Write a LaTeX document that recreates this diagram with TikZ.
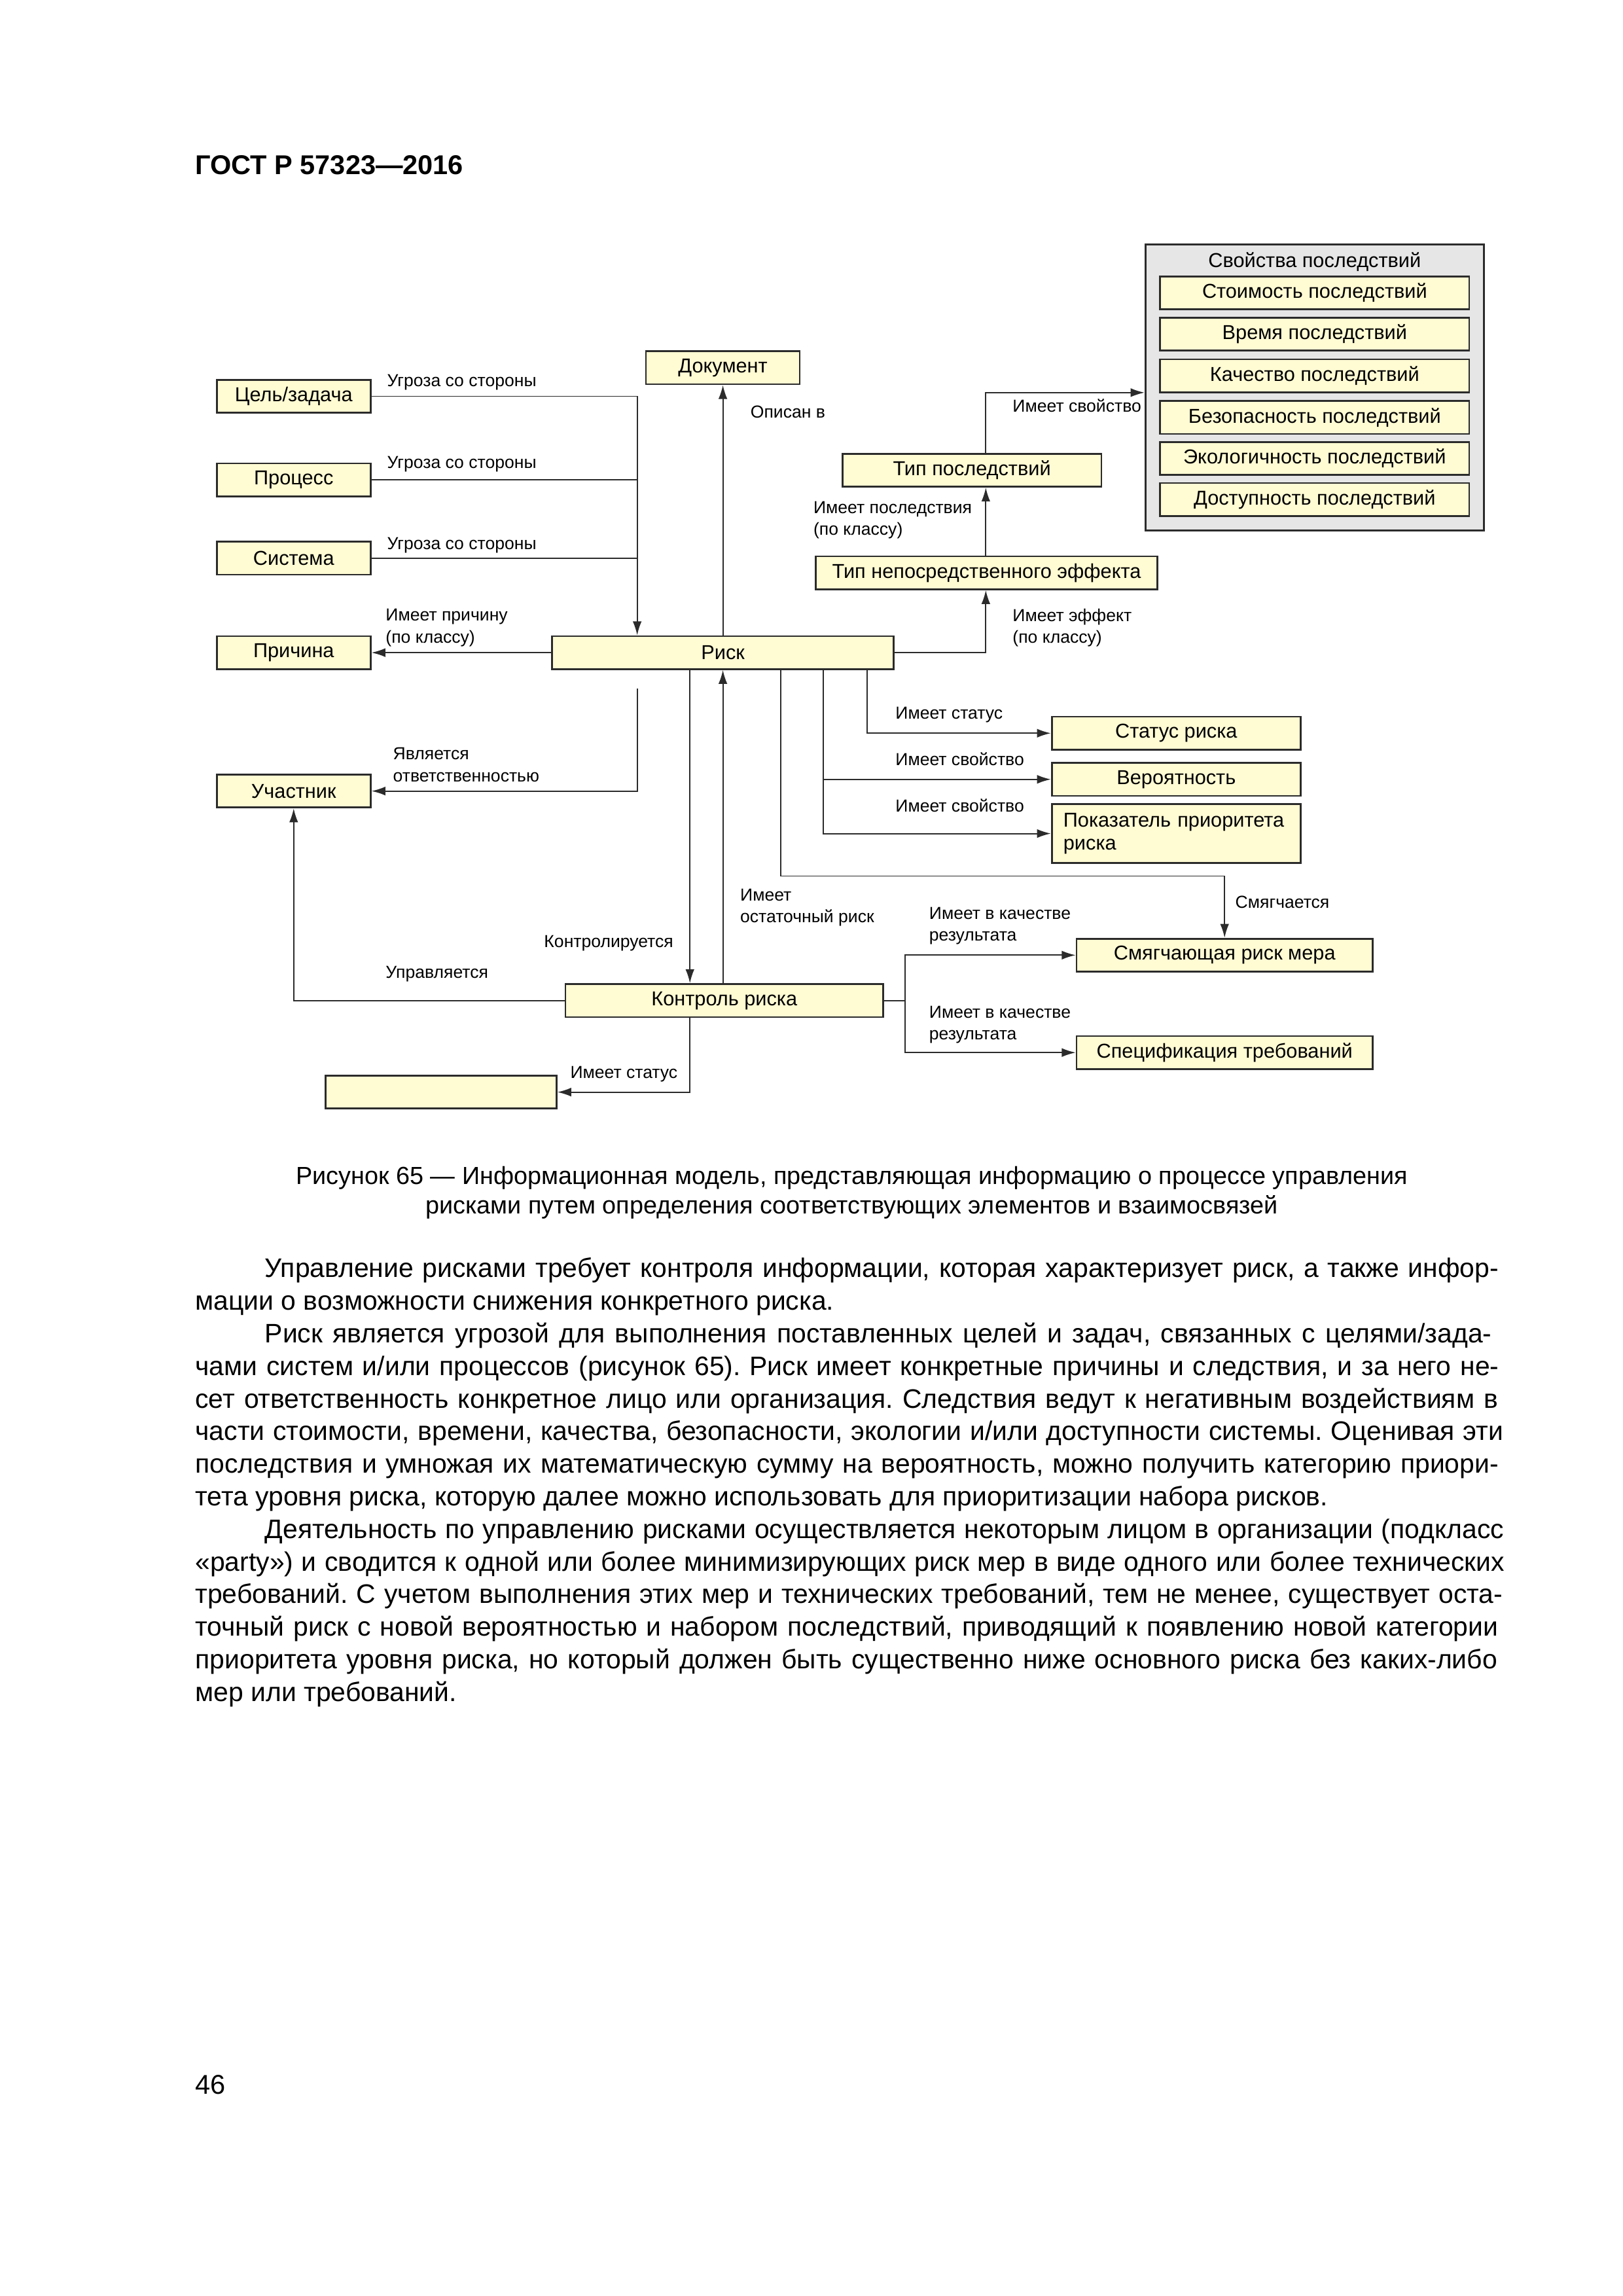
\documentclass[tikz,border=0pt]{standalone}
\usepackage{fontspec}
\setmainfont{Liberation Sans}
\usetikzlibrary{arrows.meta}

\definecolor{boxfill}{HTML}{FFFBD3}
\definecolor{groupfill}{HTML}{E6E6E6}
\definecolor{edgegray}{HTML}{2B2B2B}

\tikzset{
	entity/.style={draw=edgegray, line width=0.65pt, fill=boxfill, minimum height=0.426cm, inner sep=1pt, font=\fontsize{7.4}{8.6}\selectfont},
	rel/.style={draw=edgegray, line width=0.45pt},
	arr/.style={rel, -{Latex[length=1.8mm,width=1.15mm]}},
	lbl/.style={font=\fontsize{6.4}{8.1}\selectfont, anchor=west, align=left, inner sep=0pt},
}

\begin{document}
\begin{tikzpicture}[x=0.018953cm, y=-0.018953cm]
	\useasboundingbox (0,0) rectangle (1108,1567.3);
	\node[anchor=base west, inner sep=0, font=\bfseries\fontsize{10}{12}\selectfont] (title) at (133,119) {ГОСТ Р 57323—2016};

	\node[draw=edgegray, line width=0.65pt, fill=groupfill, minimum width=4.38cm, minimum height=3.70cm] (props) at (897.5,264.5) {};
	\node[font=\fontsize{7.4}{8.6}\selectfont, inner sep=0] (propstitle) at (897.5,179) {Свойства последствий};
	\node[entity, minimum width=4.0cm] (cost) at (897.5,200) {Стоимость последствий};
	\node[entity, minimum width=4.0cm] (time) at (897.5,228) {Время последствий};
	\node[entity, minimum width=4.0cm] (quality) at (897.5,256.5) {Качество последствий};
	\node[entity, minimum width=4.0cm] (safety) at (897.5,285) {Безопасность последствий};
	\node[entity, minimum width=4.0cm] (ecology) at (897.5,313) {Экологичность последствий};
	\node[entity, minimum width=4.0cm] (access) at (897.5,341) {Доступность последствий};

	\node[entity, minimum width=1.99cm] (goal) at (200.5,270.5) {Цель/задача};
	\node[entity, minimum width=1.99cm] (process) at (200.5,327.5) {Процесс};
	\node[entity, minimum width=1.99cm] (system) at (200.5,381) {Система};
	\node[entity, minimum width=1.99cm] (cause) at (200.5,445.5) {Причина};
	\node[entity, minimum width=1.99cm] (party) at (200.5,540) {Участник};
	\node[entity, minimum width=4.42cm] (risk) at (493.5,445.5) {Риск};
	\node[entity, minimum width=1.99cm] (doc) at (493.5,251) {Документ};
	\node[entity, minimum width=3.35cm] (ctype) at (663.5,321) {Тип последствий};
	\node[entity, minimum width=4.42cm] (etype) at (673.5,391) {Тип непосредственного эффекта};
	\node[entity, minimum width=3.22cm] (status) at (803,500.5) {Статус риска};
	\node[entity, minimum width=3.22cm] (prob) at (803,532) {Вероятность};
	\node[entity, minimum width=3.22cm, minimum height=0.76cm, text width=2.92cm, align=left] (prio) at (803,569) {Показатель приоритета\\риска};
	\node[entity, minimum width=3.83cm] (mitig) at (836,652) {Смягчающая риск мера};
	\node[entity, minimum width=3.83cm] (spec) at (836,718.5) {Спецификация требований};
	\node[entity, minimum width=4.11cm] (control) at (494.5,683) {Контроль риска};
	\node[entity, minimum width=2.99cm] (cstatus) at (301,745.5) {};

	\coordinate (bus) at (435,0);
	\coordinate (resp) at (435,470);
	\coordinate (fx) at (673,0);
	\coordinate (prop) at (673,268);
	\coordinate (st) at (592,0);
	\coordinate (pr) at (562,0);
	\coordinate (mt) at (533,598);
	\coordinate (ct) at (471,0);
	\coordinate (rr) at (493.5,0);
	\coordinate (res) at (618,0);

	\draw[rel] (process.east) -- (process.east -| bus);
	\draw[rel] (system.east) -- (system.east -| bus);
	\draw[arr] (goal.east) -- (goal.east -| bus) -- (bus |- risk.north);
	\draw[arr] (risk.north) -- (doc.south);
	\draw[arr] (risk.west) -- (cause.east);
	\draw[arr] (resp) -- (resp |- party.east) -- (party.east);
	\draw[arr] (risk.east) -- (risk.east -| fx) -- (fx |- etype.south);
	\draw[arr] (fx |- etype.north) -- (fx |- ctype.south);
	\draw[arr] (fx |- ctype.north) -- (prop) -- (prop -| props.west);
	\draw[arr] (st |- risk.south) -- (st |- status.west) -- (status.west);
	\draw[arr] (pr |- risk.south) -- (pr |- prio.west) -- (prio.west);
	\draw[arr] (pr |- prob.west) -- (prob.west);
	\draw[arr] (mt |- risk.south) -- (mt) -- (mt -| mitig.north) -- (mitig.north);
	\draw[arr] (ct |- risk.south) -- (ct |- control.north);
	\draw[arr] (rr |- control.north) -- (rr |- risk.south);
	\draw[arr] (control.west) -- (control.west -| party.south) -- (party.south);
	\draw[arr] (control.east) -- (control.east -| res) -- (res |- mitig.west) -- (mitig.west);
	\draw[arr] (control.east -| res) -- (res |- spec.west) -- (spec.west);
	\draw[arr] (ct |- control.south) -- (ct |- cstatus.east) -- (cstatus.east);

	\node[lbl] (lgoal) at (264,261) {Угроза со стороны};
	\node[lbl] (lprocess) at (264,317) {Угроза со стороны};
	\node[lbl] (lsystem) at (264,372) {Угроза со стороны};
	\node[lbl] (ldoc) at (512,281) {Описан в};
	\node[lbl] (lcause) at (263,428.5) {Имеет причину\\(по классу)};
	\node[lbl] (lparty) at (268,522) {Является\\ответственностью};
	\node[lbl] (lfx) at (691,428.5) {Имеет эффект\\(по классу)};
	\node[lbl] (lctype) at (555,355) {Имеет последствия\\(по классу)};
	\node[lbl] (lprop) at (691,277) {Имеет свойство};
	\node[lbl] (lstatus) at (611,488) {Имеет статус};
	\node[lbl] (lprob) at (611,518) {Имеет свойство};
	\node[lbl] (lprio) at (611,550) {Имеет свойство};
	\node[lbl] (lmitig) at (843,616) {Смягчается};
	\node[lbl, anchor=east] (lcontrol) at (460,644) {Контролируется};
	\node[lbl] (lresid) at (505,619.5) {Имеет\\остаточный риск};
	\node[lbl] (lmanaged) at (263,665) {Управляется};
	\node[lbl] (lresult) at (634,632) {Имеет в качестве\\результата};
	\node[lbl] (lspec) at (634,699.5) {Имеет в качестве\\результата};
	\node[lbl] (lcstatus) at (389,733) {Имеет статус};

	\node[align=center, inner sep=0, font=\fontsize{9.1}{10.75}\selectfont] (caption) at (581.5,814) {Рисунок 65 — Информационная модель, представляющая информацию о процессе управления\\рисками путем определения соответствующих элементов и взаимосвязей};

	\node[anchor=base west, inner sep=0, text width=17.0cm, font=\fontsize{9.85}{12}\selectfont] (body) at (133,872) {\frenchspacing\tolerance=9999\emergencystretch=1em\hyphenpenalty=10000
	\spaceskip=\fontdimen2\font plus 0.3em minus 0.1em
	\hspace*{0.9cm}Управление рисками требует контроля информации, которая характеризует риск, а также инфор-\linebreak мации о возможности снижения конкретного риска.\par
	\hspace*{0.9cm}Риск является угрозой для выполнения поставленных целей и задач, связанных с целями/зада-\linebreak чами систем и/или процессов (рисунок 65). Риск имеет конкретные причины и следствия, и за него не-\linebreak сет ответственность конкретное лицо или организация. Следствия ведут к негативным воздействиям в\linebreak части стоимости, времени, качества, безопасности, экологии и/или доступности системы. Оценивая эти\linebreak последствия и умножая их математическую сумму на вероятность, можно получить категорию приори-\linebreak тета уровня риска, которую далее можно использовать для приоритизации набора рисков.\par
	\hspace*{0.9cm}Деятельность по управлению рисками осуществляется некоторым лицом в организации (подкласс\linebreak «party») и сводится к одной или более минимизирующих риск мер в виде одного или более технических\linebreak требований. С учетом выполнения этих мер и технических требований, тем не менее, существует оста-\linebreak точный риск с новой вероятностью и набором последствий, приводящий к появлению новой категории\linebreak приоритета уровня риска, но который должен быть существенно ниже основного риска без каких-либо\linebreak мер или требований.};

	\node[anchor=west, inner sep=0, font=\fontsize{10}{12}\selectfont] (page) at (133,1423) {46};
\end{tikzpicture}
\end{document}
